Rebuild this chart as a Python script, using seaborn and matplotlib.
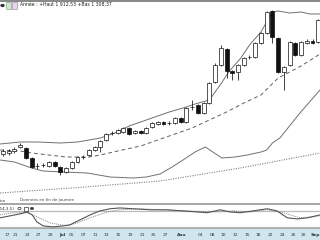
import numpy as np
import matplotlib
matplotlib.use("Agg")
import matplotlib.pyplot as plt
import seaborn as sns
from matplotlib.patches import Rectangle, Circle

# ---------------- data ----------------
opens = [1552.5, 1555, 1560, 1571, 1567.5, 1542.5, 1522, 1524, 1522.5, 1532.5,
         1520, 1507.5, 1517.5, 1532.5, 1544, 1550, 1562.5, 1570, 1587.5, 1604,
         1605, 1607.5, 1617.5, 1605, 1610, 1605, 1620, 1627.5, 1632.5, 1629,
         1630, 1642.5, 1632.5, 1669, 1675, 1655, 1680, 1732.5, 1775, 1815,
         1760, 1757.5, 1775, 1794, 1795, 1830, 1855, 1910, 1842.5, 1757.5,
         1775, 1830, 1800, 1831, 1834, 1832.5]
highs = [1565, 1565, 1570, 1580, 1570, 1545, 1530, 1530, 1535, 1535,
         1522.5, 1520, 1535, 1547.5, 1550, 1565, 1572.5, 1587.5, 1605, 1610,
         1615, 1620, 1620, 1612.5, 1612.5, 1620, 1632.5, 1635, 1635, 1635,
         1645, 1645, 1670, 1687.5, 1677.5, 1682.5, 1732.5, 1780, 1825, 1817.5,
         1762.5, 1777.5, 1795, 1800, 1832.5, 1857.5, 1910, 1912.5, 1845, 1772.5,
         1835, 1832.5, 1835, 1840, 1840, 1890]
lows = [1547.5, 1550, 1555, 1567.5, 1540, 1517.5, 1515, 1520, 1520, 1520,
        1500, 1505, 1515, 1530, 1540, 1547.5, 1560, 1557.5, 1585, 1600,
        1602.5, 1605, 1600, 1602.5, 1602.5, 1602.5, 1617.5, 1625, 1625, 1625,
        1627.5, 1630, 1630, 1662.5, 1652.5, 1652.5, 1677.5, 1730, 1772.5, 1742.5,
        1737.5, 1737.5, 1772.5, 1790, 1792.5, 1827.5, 1852.5, 1830, 1755, 1712.5,
        1772.5, 1797.5, 1797.5, 1827.5, 1827.5, 1830]
closes = [1560, 1560, 1565, 1574, 1542.5, 1520, 1523, 1526, 1532.5, 1522.5,
          1507.5, 1517.5, 1532.5, 1545, 1546, 1562.5, 1570, 1585, 1602.5, 1606,
          1612.5, 1617.5, 1602.5, 1610, 1605, 1617.5, 1630, 1632.5, 1627.5, 1631,
          1642.5, 1632.5, 1667.5, 1671, 1655, 1680, 1730, 1775, 1817.5, 1760,
          1755, 1775, 1792.5, 1796, 1830, 1855, 1907.5, 1845, 1757.5, 1770,
          1832.5, 1800, 1832.5, 1834, 1831, 1887.5]

# Bollinger bands (read at candle-index positions)
upper_x = [-0.5, 3, 6, 10, 13, 17, 19.5, 22, 26, 29, 32, 33.5, 36, 38, 39.5, 41.5,
           43, 45, 47, 48, 50, 52, 53.5, 55.3]
upper_p = [1577.5, 1582.5, 1582.5, 1580, 1582.5, 1592.5, 1605, 1622.5, 1642.5, 1657.5,
           1670, 1677.5, 1687.5, 1727.5, 1760, 1792.5, 1825, 1857.5, 1907.5, 1910,
           1905, 1907.5, 1902.5, 1902.5]
mid_x = [-0.5, 3, 5, 8, 11, 15, 17, 20, 24, 27, 33, 39, 42, 45, 48, 52, 55.3]
mid_p = [1562.5, 1560, 1555, 1550, 1545, 1545, 1550, 1560, 1572.5, 1587.5, 1617.5,
         1657.5, 1680, 1700, 1742.5, 1772.5, 1802.5]
lower_x = [-0.5, 2, 5, 7, 10.5, 14.7, 18.7, 22.7, 25, 27.4, 29.5, 31.4, 33.5, 35.3,
           36.6, 38.2, 40.5, 42.6, 45, 46, 47, 48.3, 51.8, 55.3]
lower_p = [1537.5, 1532.5, 1517.5, 1510, 1507.5, 1505, 1495, 1492.5, 1495, 1502.5,
           1520, 1537.5, 1557.5, 1570, 1557.5, 1542.5, 1545, 1550, 1557.5, 1562.5,
           1580, 1592.5, 1655, 1712.5]
long_x = [-0.5, 13.4, 27.4, 41.4, 55.3]
long_p = [1455, 1469, 1485, 1517.5, 1555]

# Stochastic oscillator (14,3,5)
k_x = [-0.5, 3.0, 4.2, 5.1, 5.9, 7.0, 8.7, 10.5, 11.7, 13.4, 15.2, 16.9, 18.7, 20.4,
       22.7, 25.7, 28.6, 31.4, 33.9, 35.6, 37.9, 39.6, 41.4, 43.6, 46.1, 47.8, 49.6,
       51.3, 53.1, 55.3]
k_v = [54, 69, 76, 65, 39, 24, 20, 24, 28, 46, 65, 80, 88, 91, 88, 84, 84, 80, 76, 73,
       84, 76, 73, 80, 88, 80, 54, 50, 54, 65]
d_x = [-0.5, 1.7, 4.2, 5.9, 8.2, 11.2, 12.9, 15.2, 18.2, 20.4, 23.9, 31.4, 37.4, 40.1,
       43.1, 46.1, 48.9, 51.8, 54.1, 55.3]
d_v = [65, 73, 73, 58, 35, 24, 35, 54, 76, 84, 88, 80, 76, 80, 76, 84, 73, 54, 58, 62]
osc_levels = [80, 20]

tick_pos = [0.7, 2.1, 4.2, 6.1, 8.2, 10.3, 12.0, 14.0, 16.1, 18.1, 20.1, 22.2, 24.3,
            26.2, 28.3, 31.2, 34.4, 36.5, 38.4, 40.5, 42.6, 44.5, 46.6, 48.7, 50.6,
            52.4, 54.5]
tick_labels = ["17", "21", "23", "27", "29", "Jul", "05", "07", "11", "13", "15", "19",
               "21", "25", "27", "Aou", "04", "08", "10", "12", "15", "18", "22", "24",
               "26", "30", "Sep"]
months = {"Jul", "Aou", "Sep"}

header = "Année : +Haut 1 912,53 +Bas 1 308,37"

# ---------------- drawing ----------------
sns.set_theme(style="white")
plt.rcParams["font.family"] = ["DejaVu Sans"]

W, H = 320, 240
fig = plt.figure(figsize=(3.2, 2.4), dpi=100)
fig.patch.set_facecolor("white")

def fy(y):
    return 1 - y / H

XL = (-0.52, 55.3)

ax = fig.add_axes([0, fy(199), 1, (199 - 8) / H])
osc = fig.add_axes([0, fy(228), 1, (228 - 205) / H])
band = fig.add_axes([0, 0, 1, 12 / H])

# main panel
sns.lineplot(x=long_x, y=long_p, ax=ax, color="#808080", lw=0.8,
             linestyle=(0, (1, 1.2)), zorder=1)
sns.lineplot(x=lower_x, y=lower_p, ax=ax, color="#707070", lw=0.7, zorder=1)
sns.lineplot(x=upper_x, y=upper_p, ax=ax, color="#707070", lw=0.7, zorder=1)
sns.lineplot(x=mid_x, y=mid_p, ax=ax, color="#606060", lw=0.7,
             linestyle=(0, (4, 3)), zorder=1)

o = np.array(opens); c = np.array(closes)
h = np.array(highs); l = np.array(lows)
idx = np.arange(len(o))
up = c >= o
ax.vlines(idx, l, h, color="#111111", lw=0.55, zorder=2)
bottoms = np.minimum(o, c)
heights = np.maximum(np.abs(c - o), 0.9)
ax.bar(idx, heights, bottom=bottoms, width=0.68,
       color=np.where(up, "white", "#111111"), edgecolor="#111111",
       linewidth=0.5, zorder=3)
ax.set_xlim(*XL)
ax.set_ylim(1440, 1917.5)
ax.set_axis_off()

# oscillator
for lv in osc_levels:
    osc.axhline(lv, color="#bbbbbb", lw=0.9, zorder=0)
sns.lineplot(x=d_x, y=d_v, ax=osc, color="#888888", lw=0.7,
             linestyle=(0, (1, 1)), zorder=1)
sns.lineplot(x=k_x, y=k_v, ax=osc, color="#555555", lw=0.8, zorder=2)
osc.set_xlim(*XL)
osc.set_ylim(16, 102)
osc.set_axis_off()

# date band
band.set_facecolor("#cfe6ef")
band.set_xlim(*XL)
band.set_ylim(0, 1)
for s in band.spines.values():
    s.set_visible(False)
band.set_xticks([]); band.set_yticks([])
for p, t in zip(tick_pos, tick_labels):
    band.text(p, 0.45, t, ha="center", va="center", fontsize=3.2,
              color="#333333", fontweight="bold" if t in months else "normal")

# header strip and decorations
fig.add_artist(Rectangle((0, fy(2)), 1, 2 / H, transform=fig.transFigure,
                         color="#8a8a8a", lw=0))
fig.add_artist(Circle((2.5 / W, fy(5.5)), 2.2 / W, transform=fig.transFigure,
                      color="#333333", lw=0))
fig.add_artist(Rectangle((5.5 / W, fy(8.5)), 5.5 / W, 6 / H, transform=fig.transFigure,
                         facecolor="#cfe8cf", edgecolor="#7a9a7a", lw=0.4))
fig.add_artist(Rectangle((11.5 / W, fy(8.5)), 5.5 / W, 6 / H, transform=fig.transFigure,
                         facecolor="#e6d6ea", edgecolor="#9a7aa0", lw=0.4))
fig.text(20 / W, fy(4.5), header, fontsize=3.3, color="#222222", va="center", ha="left")

# sub-panel header
fig.text(-0.5 / W, fy(200.5), "ion", fontsize=3.0, color="#444444", va="center", ha="left")
fig.text(20 / W, fy(200.5), "Données en fin de journée", fontsize=3.0, color="#444444",
         va="center", ha="left")
fig.add_artist(Rectangle((0, fy(204.5)), 1, 1.5 / H, transform=fig.transFigure,
                         color="#a8a8a8", lw=0))
fig.text(-1 / W, fy(208.5), "(14,3,5)", fontsize=3.0, color="#333333", va="center", ha="left")
fig.add_artist(Circle((19.5 / W, fy(208.5)), 1.6 / W, transform=fig.transFigure,
                      facecolor="white", edgecolor="#333333", lw=0.5))
fig.add_artist(Rectangle((23.5 / W, fy(210.5)), 4 / W, 4 / H, transform=fig.transFigure,
                         facecolor="white", edgecolor="#333333", lw=0.5))
fig.add_artist(Circle((32 / W, fy(208.5)), 2 / W, transform=fig.transFigure,
                      color="#444444", lw=0))
fig.add_artist(Rectangle((0, fy(228.5)), 1, 1 / H, transform=fig.transFigure,
                         color="#aaaaaa", lw=0))

fig.savefig("out.png", dpi=100, facecolor="white")
